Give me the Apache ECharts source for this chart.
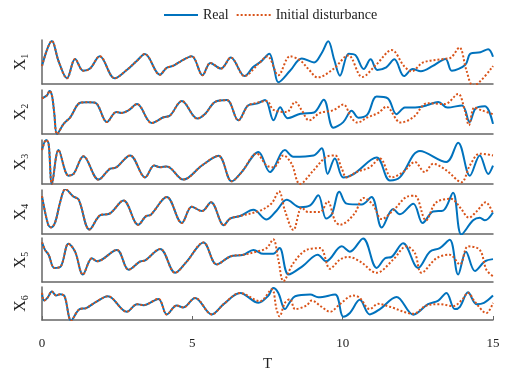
<!DOCTYPE html>
<html lang="en">
<head>
    <meta charset="UTF-8">
    <title>Real vs initial disturbance</title>
    <script src="https://cdn.jsdelivr.net/npm/echarts@6/dist/echarts.min.js"></script>
    <style>
        html, body { margin: 0; padding: 0; background: #fff; }
        #main { width: 519px; height: 373px; }
    </style>
</head>
<body>
<div id="main"></div>
<script>
    // [T, value] points; "common" is where both runs overlap
    var x1Common = [[0,4.1],[0.33,9.8],[0.55,5.2],[0.83,1.3],[1.1,5.7],[1.37,3.0],[1.6,3.5],[1.92,6.3],[2.42,1.3],[2.82,3.2],[3.16,5.3],[3.42,6.8],[3.92,2.1],[4.15,3.7],[4.35,4.1],[4.6,5.1],[4.98,6.3],[5.34,2.0],[5.6,4.8],[5.95,3.5],[6.28,6.0],[6.74,1.8]];
    var x1Real = [[7.03,3.9],[7.3,5.2],[7.56,6.9],[7.72,3.5],[7.86,0.4],[8.25,3.0],[8.64,5.8],[9.05,4.9],[9.3,7.0],[9.52,9.7],[9.72,5.5],[9.91,1.9],[10.2,6.9],[10.42,6.6],[10.7,3.4],[10.93,5.6],[11.15,3.2],[11.45,3.8],[11.72,5.6],[12.04,1.8],[12.33,3.4],[12.6,2.9],[13.0,4.1],[13.42,5.7],[13.63,3.0],[14.08,4.4],[14.25,6.9],[14.58,7.2],[14.84,7.9],[15,6.2]];
    var x1Dist = [[7.2,4.6],[7.5,6.3],[7.86,2.0],[8.25,6.3],[8.58,5.4],[8.85,3.5],[9.17,1.5],[9.69,3.4],[10.19,6.5],[10.65,1.6],[11.13,4.5],[11.63,7.7],[12.05,4.0],[12.29,2.9],[12.68,4.9],[13.34,5.7],[13.6,6.0],[13.88,8.3],[14.12,3.0],[14.34,-0.4],[15,4.1]];

    var x2Common = [[0,8.1],[0.17,8.8],[0.25,9.8],[0.33,8.8],[0.41,4.6],[0.5,0],[0.72,2.3],[0.94,3.8],[1.27,7.1],[1.5,7.2],[1.77,7.1],[2.16,2.7],[2.47,5.0],[2.66,4.8],[2.88,5.4],[3.16,6.8],[3.65,2.5],[4.04,3.8],[4.26,4.2],[4.65,7.5],[5.17,3.5],[5.43,4.6],[5.76,7.3],[6.15,7.7],[6.53,3.1],[6.85,6.5]];
    var x2Real = [[7.14,6.9],[7.42,7.7],[7.7,3.1],[7.92,6.1],[8.17,3.6],[8.6,4.6],[9.05,4.9],[9.37,7.8],[9.69,1.4],[10.02,2.7],[10.3,5.3],[10.52,3.7],[10.82,4.4],[11.13,8.5],[11.5,8.1],[11.79,4.5],[12.07,6.0],[12.5,6.1],[12.79,6.5],[13.18,7.3],[13.48,6.0],[13.97,6.5],[14.22,2.7],[14.42,5.8],[14.73,6.3],[15,2.3]];
    var x2Dist = [[7.03,6.9],[7.47,7.5],[7.7,5.5],[8.14,5.0],[8.42,7.3],[8.64,5.4],[8.88,3.1],[9.25,4.8],[9.69,5.4],[10.02,6.7],[10.3,3.6],[10.5,2.6],[10.8,3.7],[11.19,4.8],[11.45,6.2],[11.93,2.6],[12.35,3.8],[12.82,7.0],[13.4,6.8],[13.84,9.1],[14.06,5.4],[14.2,2.0],[14.38,6.0],[14.62,5.4],[15,4.5]];

    var x3Common = [[0,7.7],[0.14,10],[0.22,9.2],[0.33,0],[0.55,7.7],[0.88,1.9],[1.05,2.3],[1.38,6.3],[1.88,1.0],[2.27,3.5],[2.45,3.7],[2.93,6.5],[3.43,1.5],[3.73,4.2],[3.93,3.8],[4.15,4.0],[4.7,1.0],[5.32,4.2],[5.87,6.4],[6.31,0.6],[6.64,2.7]];
    var x3Real = [[7.2,7.3],[7.58,2.7],[7.7,3.5],[8.08,7.7],[8.36,6.2],[9.03,6.5],[9.3,8.1],[9.5,2.3],[9.74,5.8],[10.02,1.5],[10.35,2.2],[11.13,6.0],[11.57,0.8],[11.9,1.5],[12.57,7.5],[13.45,5.0],[13.84,9.4],[14.23,1.9],[14.56,6.5],[14.84,2.3],[15,4.2]];
    var x3Dist = [[7.14,6.9],[7.47,4.2],[7.7,3.8],[8.03,6.5],[8.3,4.6],[8.58,0],[9.03,3.1],[9.47,6.2],[9.75,6.5],[9.97,3.5],[10.13,1.5],[10.46,2.7],[10.9,3.8],[11.24,5.8],[11.63,1.5],[12.01,2.7],[12.4,5.0],[12.73,2.7],[13.01,4.6],[13.45,3.1],[13.95,0.4],[14.23,4.2],[14.56,6.9],[15,6.5]];

    var x4Common = [[0,8.6],[0.2,2.2],[0.3,1.5],[0.44,2.7],[0.61,7.4],[0.78,10.2],[1.03,8.6],[1.22,7.8],[1.58,1.0],[1.94,4.3],[2.24,4.6],[2.71,7.6],[3.2,2.1],[3.45,4.0],[3.62,4.4],[4.15,8.4],[4.65,2.5],[4.98,6.2],[5.32,5.2],[5.62,7.2],[6.05,2.0],[6.25,3.5],[6.59,4.1]];
    var x4Real = [[7.03,5.5],[7.47,3.3],[7.8,5.3],[8.14,7.8],[8.58,6.1],[8.92,6.5],[9.19,8.8],[9.45,3.5],[9.64,4.5],[9.89,9.6],[10.13,6.9],[10.63,6.7],[10.96,8.4],[11.3,1.5],[11.68,5.7],[11.9,4.5],[12.35,6.9],[12.66,2.5],[13.01,5.1],[13.34,5.3],[13.67,9.4],[13.95,-0.1],[14.34,3.1],[14.56,3.7],[14.73,3.1],[15,4.9]];
    var x4Dist = [[7.25,5.3],[7.64,7.0],[7.88,9.7],[8.08,5.3],[8.36,0.9],[8.64,6.0],[8.85,5.0],[9.25,5.0],[9.5,7.4],[9.75,2.9],[9.91,2.1],[10.38,4.5],[10.7,8.2],[11.0,6.7],[11.3,3.4],[11.7,5.5],[12.15,8.5],[12.4,8.7],[12.77,3.1],[13.1,7.1],[13.6,8.0],[13.92,5.9],[14.2,3.7],[14.45,5.1],[14.76,7.2],[15,4.7]];

    var x5Common = [[0,9.0],[0.1,7.3],[0.22,6.2],[0.41,3.2],[0.63,3.6],[0.88,8.7],[1.1,6.9],[1.36,1.7],[1.66,5.4],[1.83,4.7],[2.49,7.3],[2.88,2.8],[3.27,4.7],[3.43,4.9],[3.93,7.5],[4.43,2.1],[4.82,4.7],[5.37,9.0],[5.81,4.0],[6.26,5.8],[6.7,6.2]];
    var x5Real = [[7.03,7.3],[7.36,6.4],[7.69,6.4],[7.9,7.7],[8.2,1.7],[8.67,3.6],[9.17,6.2],[9.45,4.7],[9.97,8.1],[10.24,6.9],[10.68,9.9],[11.13,3.2],[11.41,5.4],[11.63,5.7],[12.01,8.8],[12.51,3.2],[12.9,6.9],[13.23,7.7],[13.56,9.6],[13.84,1.7],[14.1,6.9],[14.4,2.5],[14.73,4.7],[15,5.2]];
    var x5Dist = [[7.14,6.9],[7.47,7.7],[7.69,9.7],[7.86,5.1],[8.03,0.2],[8.36,4.3],[8.8,7.3],[9.25,7.7],[9.58,3.0],[9.91,5.1],[10.19,5.7],[10.57,4.7],[11.13,2.1],[11.68,5.1],[12.12,8.1],[12.4,6.6],[12.62,2.1],[13.12,5.4],[13.56,6.2],[13.9,4.0],[14.17,8.1],[14.56,7.3],[14.78,2.8],[15,1.3]];

    var x6Common = [[0,8.2],[0.07,5.9],[0.18,6.7],[0.33,8.6],[0.47,7.4],[0.6,7.8],[0.75,7.2],[0.97,-0.1],[1.25,3.3],[1.47,3.6],[1.8,5.5],[2.19,7.2],[2.82,2.5],[3.16,4.8],[3.38,4.5],[3.87,6.4],[4.15,1.7],[4.48,4.4],[4.7,3.8],[5.09,6.7],[5.65,1.7],[6.04,4.8],[6.59,8.2]];
    var x6Real = [[7.2,5.2],[7.53,7.4],[7.69,9.7],[7.86,8.2],[8.08,3.3],[8.25,5.5],[8.42,7.2],[8.92,7.7],[9.19,6.9],[9.75,7.7],[10.02,1.0],[10.24,2.1],[10.57,6.1],[10.9,1.7],[11.24,3.3],[11.79,7.0],[12.35,1.6],[12.84,4.8],[13.18,5.9],[13.45,8.2],[13.73,3.3],[13.9,4.0],[14.17,8.4],[14.45,4.8],[14.7,5.2],[15,7.4]];
    var x6Dist = [[7.25,5.7],[7.64,9.3],[7.8,3.3],[7.9,1.1],[8.08,5.2],[8.25,6.3],[8.42,3.3],[8.8,4.4],[8.97,5.9],[9.3,4.0],[9.58,2.5],[9.91,4.8],[10.35,7.4],[10.57,6.7],[10.9,3.3],[11.18,4.9],[11.57,4.0],[12.35,1.9],[12.79,4.4],[13.23,4.8],[13.67,4.2],[13.95,5.9],[14.17,8.2],[14.4,5.5],[14.78,2.1],[15,5.2]];

    var xTicks = [0, 5, 10, 15];
    var panelNames = ['1', '2', '3', '4', '5', '6'];

    var commons = [x1Common, x2Common, x3Common, x4Common, x5Common, x6Common];
    var reals = [x1Real, x2Real, x3Real, x4Real, x5Real, x6Real];
    var dists = [x1Dist, x2Dist, x3Dist, x4Dist, x5Dist, x6Dist];

    var FONT = 'Liberation Serif';
    var AXIS_COLOR = '#666';
    var tops = [40, 90, 140, 190, 238, 287];

    var grids = [], xAxes = [], yAxes = [], series = [];

    for (var i = 0; i < 6; i++) {
        var last = (i === 5);
        grids.push({ left: 42, width: 451, top: tops[i], height: 44 });
        xAxes.push({
            gridIndex: i,
            type: 'value',
            min: xTicks[0],
            max: xTicks[xTicks.length - 1],
            interval: 5,
            splitLine: { show: false },
            axisLine: { lineStyle: { color: AXIS_COLOR, width: 1.5 } },
            axisTick: { show: last, inside: true, length: 4, lineStyle: { color: AXIS_COLOR } },
            axisLabel: { show: last, fontFamily: FONT, fontSize: 13, color: '#222', margin: 17 },
            name: last ? 'T' : '',
            nameLocation: 'middle',
            nameGap: 37,
            nameTextStyle: { fontFamily: FONT, fontSize: 15, color: '#222' }
        });
        yAxes.push({
            gridIndex: i,
            type: 'value',
            min: 0,
            max: 10,
            splitLine: { show: false },
            axisLine: { show: true, lineStyle: { color: AXIS_COLOR, width: 1.5 } },
            axisTick: { show: false },
            axisLabel: { show: false },
            name: '{x|X}{s|' + panelNames[i] + '}',
            nameLocation: 'middle',
            nameRotate: 90,
            nameGap: 12,
            nameTextStyle: {
                rich: {
                    x: { fontFamily: FONT, fontSize: 16, color: '#222', lineHeight: 18 },
                    s: { fontFamily: FONT, fontSize: 10, color: '#222', lineHeight: 18, padding: [8, 0, 0, 0] }
                }
            }
        });
        series.push({
            name: 'Real',
            type: 'line',
            xAxisIndex: i,
            yAxisIndex: i,
            data: commons[i].concat(reals[i]),
            smooth: 0.35,
            symbol: 'none',
            color: '#0072BD',
            lineStyle: { width: 2, color: '#0072BD' },
            z: 2
        });
        series.push({
            name: 'Initial disturbance',
            type: 'line',
            xAxisIndex: i,
            yAxisIndex: i,
            data: commons[i].concat(dists[i]),
            smooth: 0.35,
            symbol: 'none',
            color: '#D95319',
            lineStyle: { width: 2, color: '#D95319', type: [2, 2] },
            z: 3
        });
    }

    var chart = echarts.init(document.getElementById('main'));
    chart.setOption({
        animation: false,
        legend: {
            data: ['Real', 'Initial disturbance'],
            top: 3,
            left: 158,
            itemWidth: 34,
            itemHeight: 10,
            itemGap: 7,
            itemStyle: { opacity: 0 },
            textStyle: { fontFamily: FONT, fontSize: 14, color: '#222' }
        },
        grid: grids,
        xAxis: xAxes,
        yAxis: yAxes,
        series: series
    });
</script>
</body>
</html>
